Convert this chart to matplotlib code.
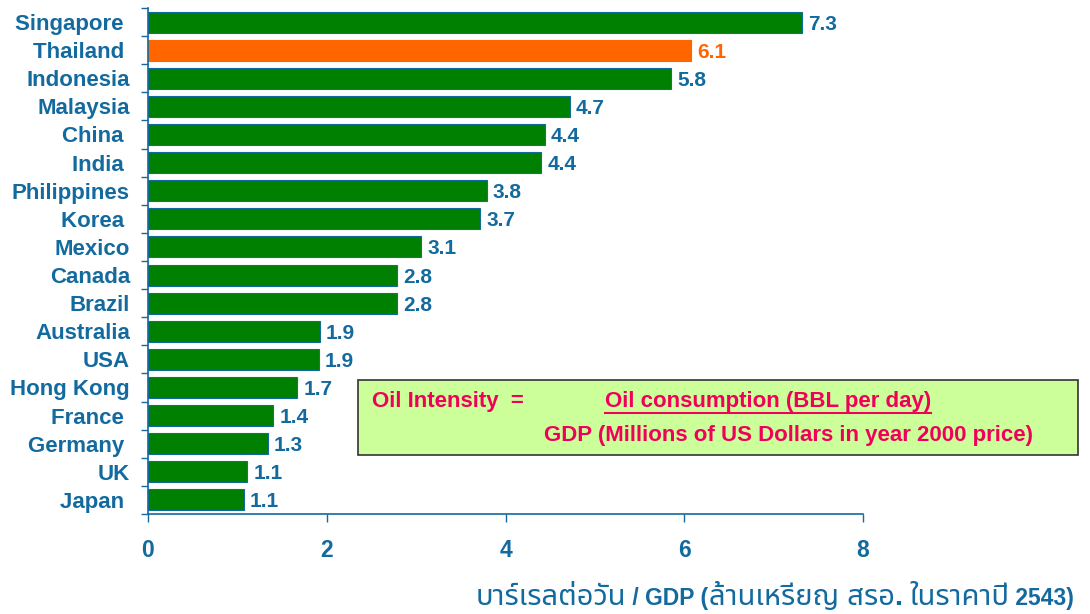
import matplotlib
matplotlib.use('Agg')
import matplotlib.pyplot as plt
import numpy as np

# data (some labels carry a trailing space, as in the slide)
countries = ['Singapore ', 'Thailand ', 'Indonesia', 'Malaysia', 'China ', 'India ',
             'Philippines', 'Korea ', 'Mexico', 'Canada', 'Brazil', 'Australia',
             'USA', 'Hong Kong', 'France ', 'Germany ', 'UK', 'Japan ']
intensity = [7.32, 6.07, 5.85, 4.72, 4.44, 4.40, 3.79, 3.72, 3.06, 2.79, 2.79,
             1.92, 1.91, 1.67, 1.40, 1.34, 1.11, 1.07]
highlight = 'Thailand '
xticks = [0, 2, 4, 6, 8]
# x label split into Thai and Latin runs (Thai drawn larger, as in the slide)
xlabel_parts = ['บาร์เรลต่อวัน', ' / GDP (', 'ล้านเหรียญ สรอ.', ' ', 'ในราคาปี', ' 2543)']
xlabel_thai = [True, False, True, False, True, False]

blue = '#136A9E'
green = '#008000'
orange = '#FF6600'
pink = '#F0005A'

plt.rcParams['font.family'] = ['Liberation Sans', 'Noto Sans Thai', 'Loma', 'Garuda',
                               'Tahoma', 'DejaVu Sans']
plt.rcParams['font.weight'] = 'bold'

fig = plt.figure(figsize=(10.9, 6.14), dpi=100)
ax = fig.add_axes([148/1090, 1 - 514/614, (863-148)/1090, (514-8)/614])

y = np.arange(len(countries))
colors = [orange if c == highlight else green for c in countries]
edges = [orange if c == highlight else blue for c in countries]
ax.barh(y, intensity, height=0.75, color=colors, edgecolor=edges, linewidth=0.8, zorder=2)

for yi, v, c in zip(y, intensity, countries):
    ax.text(v + 0.07, yi, '%.1f' % v, va='center_baseline', ha='left', fontsize=15,
            fontweight='bold', color=orange if c == highlight else blue)

ax.set_ylim(len(countries) - 0.5, -0.5)
ax.set_xlim(0, 8)
ax.set_yticks(y)
ax.set_yticklabels(countries, fontsize=16, fontweight='bold', color=blue)
for lab in ax.get_yticklabels():
    lab.set_verticalalignment('center_baseline')
ax.tick_params(axis='y', which='major', length=0, pad=13)
ax.set_yticks(np.arange(-0.5, len(countries)), minor=True)
ax.tick_params(axis='y', which='minor', length=5, color=blue, width=1)

ax.set_xticks(xticks)
ax.set_xticklabels([str(t) for t in xticks], fontsize=16.5, fontweight='bold', color=blue)
ax.tick_params(axis='x', length=6, color=blue, width=1, pad=12, direction='out')

for s in ['top', 'right']:
    ax.spines[s].set_visible(False)
for s in ['left', 'bottom']:
    ax.spines[s].set_color(blue)
    ax.spines[s].set_linewidth(1.2)

# x label: chain the runs from the right edge
renderer = fig.canvas.get_renderer()
x_right = 1074
for part, thai in reversed(list(zip(xlabel_parts, xlabel_thai))):
    t = fig.text(x_right/1090, 1 - 605/614, part, ha='right', va='baseline',
                 fontsize=21 if thai else 16.5, fontweight='bold', color=blue)
    x_right = t.get_window_extent(renderer).x0

# formula box
box = plt.Rectangle((358/1090, 1 - 455/614), (1078-358)/1090, (455-380)/614,
                    transform=fig.transFigure, facecolor='#CCFF99', edgecolor='#333333',
                    linewidth=1.2, zorder=5)
fig.add_artist(box)
fig.text(372/1090, 1 - 402/614, 'Oil Intensity  =', ha='left', va='center', fontsize=16,
         fontweight='bold', color=pink, zorder=6)
fig.text(768/1090, 1 - 402/614, 'Oil consumption (BBL per day)', ha='center', va='center',
         fontsize=16, fontweight='bold', color=pink, zorder=6)
fig.add_artist(plt.Line2D([605/1090, 931/1090], [1 - 413/614, 1 - 413/614],
                          transform=fig.transFigure, color=pink, linewidth=1.5, zorder=6))
fig.text(789/1090, 1 - 436/614, 'GDP (Millions of US Dollars in year 2000 price)',
         ha='center', va='center', fontsize=16, fontweight='bold', color=pink, zorder=6)

fig.savefig('out.png', dpi=100)
